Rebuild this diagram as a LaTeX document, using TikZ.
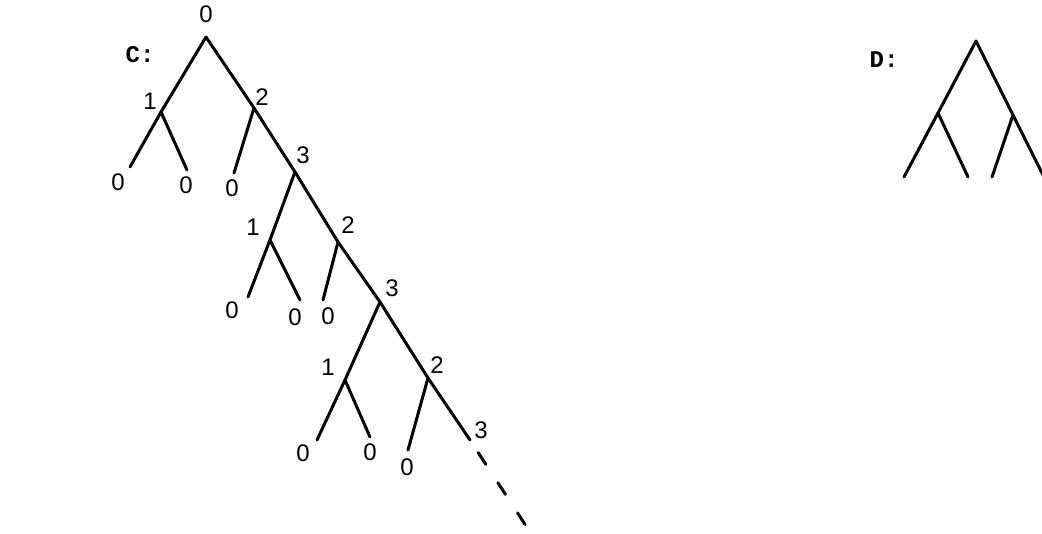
\documentclass[tikz,border=0pt]{standalone}
\usepackage{fontspec}
\newfontfamily\numfont{Liberation Sans}
\newfontfamily\headfont{Liberation Mono}
\begin{document}
\begin{tikzpicture}[
  x=0.5pt,
  y=-0.5pt,
  edge/.style={
    line width=1.5pt,
    line cap=round
  },
  tail/.style={
    edge,
    dash pattern=on 7pt off 11pt,
    dash phase=10.5pt
  },
  num/.style={font=\numfont\fontsize{12}{14}\selectfont, inner sep=0pt},
  head/.style={font=\headfont\bfseries\fontsize{12}{14}\selectfont, inner sep=0pt}
]
  \useasboundingbox (0,0) rectangle (1042,534);

  % tree C: vertices and leaves
  \foreach \n/\x/\y in {r/206/37, a1/161/112, a2/254/108,
      l1/130/167, l2/187/170, l3/234/173,
      b3/295/172, b1/270/240, b2/338/242,
      l4/248/297, l5/300/300, l6/323/300,
      c3/380/302, c1/345/380, c2/428/378,
      l7/317/440, l8/370/437, l9/408/450,
      d3/470/440, tailend/530/532}{
    \coordinate (\n) at (\x,\y);
  }
  \foreach \p/\c in {r/a1, r/a2, a1/l1, a1/l2, a2/l3, a2/b3,
      b3/b1, b3/b2, b1/l4, b1/l5, b2/l6, b2/c3,
      c3/c1, c3/c2, c1/l7, c1/l8, c2/l9, c2/d3}{
    \draw[edge] (\p) -- (\c);
  }
  \draw[tail] (d3) -- (tailend);

  % tree C: labels
  \foreach \n/\t/\x/\y in {r/0/206/14, a1/1/150/101, a2/2/262/97,
      l1/0/118/182, l2/0/186/185, l3/0/232/188,
      b3/3/303/155, b1/1/253/227, b2/2/348/225,
      l4/0/232/310, l5/0/295/317, l6/0/328/316,
      c3/3/392/288, c1/1/328/367, c2/2/437/365,
      l7/0/303/453, l8/0/370/452, l9/0/407/467,
      d3/3/481/430}{
    \node[num] (lab-\n) at (\x,\y) {\t};
  }
  \node[head] (headC) at (140,55) {C:};

  % tree D
  \node[head] (headD) at (884,60) {D:};
  \begin{scope}
    \clip (0,0) rectangle (1042,534);
    \foreach \n/\x/\y in {dr/976/41, dl/938/113, dm/1013/115,
        dl1/904/177, dl2/968/177, dl3/992/177, dl4/1044/177}{
      \coordinate (\n) at (\x,\y);
    }
    \foreach \p/\c in {dr/dl, dr/dm, dl/dl1, dl/dl2, dm/dl3, dm/dl4}{
      \draw[edge] (\p) -- (\c);
    }
  \end{scope}
\end{tikzpicture}
\end{document}
